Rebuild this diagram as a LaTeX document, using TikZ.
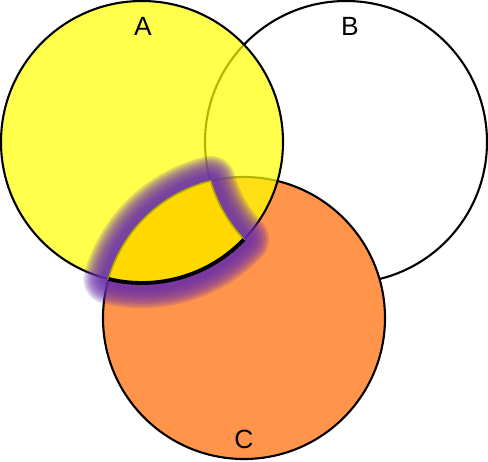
\documentclass[tikz,border=0pt]{standalone}
\usepackage{fontspec}
\setmainfont{Liberation Sans}
\usepackage{xcolor}
\usetikzlibrary{calc}
\definecolor{setyellow}{HTML}{FFFF00}
\definecolor{setorange}{HTML}{FF944A}
\definecolor{regiongold}{HTML}{FFD800}
\definecolor{glowpurple}{HTML}{6A2EAC}
\definecolor{edgeolive}{HTML}{B0B000}

\begin{document}
\begin{tikzpicture}[x=0.02cm,y=0.02cm,
    every node/.style={align=center,font=\fontsize{15}{17}\selectfont},
    setline/.style={line width=1.2pt,draw=black}]
  \useasboundingbox (0,0) rectangle (488,461);
  \coordinate (cA) at (142,319);
  \coordinate (cB) at (346,319);
  \coordinate (cC) at (244,143);
  \draw[setline,fill=white] (cB) circle[radius=141];
  \draw[setline,fill=setorange] (cC) circle[radius=141];
  \draw[setline,fill=setyellow,fill opacity=0.7] (cA) circle[radius=141];
  % glow round A and C without B
  \foreach \w in {50,46,...,12}
    \draw[glowpurple,draw opacity=0.2,line width=\w*0.2mm,line join=round]
      (108.5,182) arc[start angle=163.94,end angle=103.74,radius=141]
      arc[start angle=196.06,end angle=223.66,radius=141]
      arc[start angle=-43.66,end angle=-103.74,radius=141] -- cycle;
  \draw[fill=regiongold,draw=edgeolive,line width=0.9pt]
    (108.5,182) arc[start angle=163.94,end angle=103.74,radius=141]
    arc[start angle=196.06,end angle=223.66,radius=141]
    arc[start angle=-43.66,end angle=-103.74,radius=141] -- cycle;
  \draw[line width=2.2pt] (244,221.65) arc[start angle=-43.66,end angle=-103.74,radius=141];
  \node (labA) at (143,435) {A};
  \node (labB) at (350,435) {B};
  \node (labC) at (244,22) {C};
\end{tikzpicture}
\end{document}
